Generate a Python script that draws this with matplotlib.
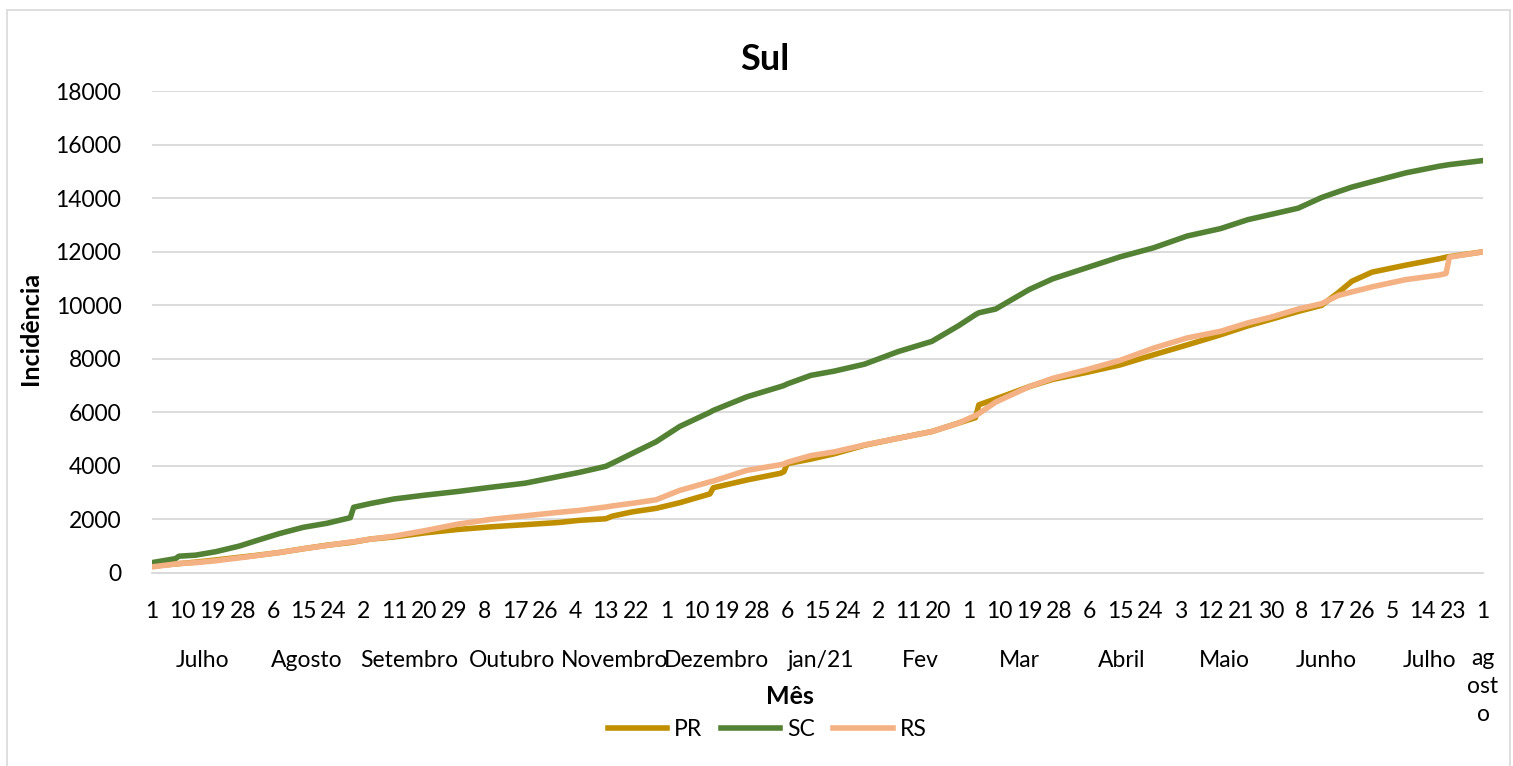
import numpy as np
import pandas as pd
import matplotlib
matplotlib.use("Agg")
import matplotlib.pyplot as plt
from matplotlib.patches import Rectangle

plt.rcParams['font.family'] = ['Lato', 'DejaVu Sans']

# dias desde 1 de julho de 2020
dias = [0, 7, 8, 13, 19, 26, 31, 38, 45, 52, 59, 60, 65, 72, 81, 91, 101, 111,
        121, 127, 135, 137, 143, 150, 157, 166, 167, 177, 187, 188, 189, 196, 203,
        212, 222, 232, 240, 245, 246, 251, 261, 268, 278, 288, 298, 308, 318,
        326, 333, 341, 348, 353, 357, 363, 373, 383, 385, 386, 396]

pr = [250, 330, 340, 400, 480, 580, 650, 760, 900, 1030, 1130, 1150, 1260,
      1340, 1490, 1620, 1720, 1800, 1880, 1960, 2020, 2120, 2280, 2410, 2620, 2950,
      3180, 3470, 3720, 3780, 4080, 4250, 4450, 4770, 5030, 5280, 5600, 5800,
      6280, 6500, 6960, 7230, 7490, 7770, 8150, 8520, 8900, 9230, 9480, 9770,
      10000, 10480, 10900, 11240, 11500, 11740, 11800, 11820, 12000]

sc = [380, 530, 620, 660, 790, 1000, 1200, 1470, 1700, 1850, 2060, 2450, 2590,
      2760, 2900, 3040, 3200, 3350, 3600, 3750, 3980, 4100, 4470, 4900, 5470, 6000,
      6070, 6580, 6960, 7000, 7060, 7380, 7540, 7800, 8270, 8650, 9240, 9650,
      9720, 9860, 10590, 10990, 11400, 11810, 12150, 12590, 12870, 13200, 13400,
      13630, 14030, 14250, 14420, 14620, 14950, 15200, 15240, 15260, 15410]

rs = [220, 330, 350, 380, 450, 560, 640, 760, 900, 1020, 1150, 1160, 1260,
      1370, 1570, 1820, 2000, 2130, 2260, 2330, 2460, 2500, 2600, 2730, 3080, 3400,
      3430, 3830, 4040, 4070, 4130, 4380, 4520, 4780, 5030, 5280, 5600, 5880,
      5950, 6380, 6960, 7270, 7590, 7940, 8400, 8780, 9030, 9340, 9560, 9860,
      10060, 10370, 10500, 10690, 10960, 11130, 11190, 11800, 12000]

meses = ["Julho", "Agosto", "Setembro", "Outubro", "Novembro", "Dezembro",
         "jan/21", "Fev", "Mar", "Abril", "Maio", "Junho", "Julho", "ag\nost\no"]

datas = pd.date_range("2020-07-01", "2021-08-01", freq="D")
n = len(datas) - 1

W, H = 1513, 766
fig = plt.figure(figsize=(W / 100, H / 100), dpi=100)
ax = fig.add_axes([152 / W, 1 - 572.8 / H, (1483 - 152) / W, (572.8 - 91.3) / H])

# moldura do gráfico
fig.patches.append(Rectangle((7 / W, -0.01), (1510 - 7) / W, 1 - 10 / H + 0.01,
                             transform=fig.transFigure, fill=False,
                             edgecolor="#D9D9D9", linewidth=1.2))

ax.plot(dias, pr, color="#BF8F00", lw=4.0, label="PR", solid_joinstyle="round")
ax.plot(dias, sc, color="#548235", lw=4.0, label="SC", solid_joinstyle="round")
ax.plot(dias, rs, color="#F4B183", lw=4.0, label="RS", solid_joinstyle="round")

ax.set_xlim(0, n)
ax.set_ylim(0, 18000)
ax.set_yticks(np.arange(0, 18001, 2000))
ax.yaxis.grid(True, color="#D9D9D9", linewidth=1.3)
ax.set_axisbelow(True)
for s in ["top", "right", "left"]:
    ax.spines[s].set_visible(False)
ax.spines["bottom"].set_color("#D9D9D9")
ax.spines["bottom"].set_linewidth(1.3)

pos = np.arange(0, n + 1, 9)
ax.set_xticks(pos)
ax.set_xticklabels([str(datas[p].day) for p in pos])
ax.tick_params(axis="both", length=0, labelsize=16.5, colors="#000000")
ax.tick_params(axis="x", pad=20)
ax.tick_params(axis="y", pad=22)

# rótulos de mês centrados no intervalo de cada mês
mes_id = datas.year * 12 + datas.month
ids = pd.unique(mes_id)
for nome, m in zip(meses, ids):
    idx = np.where(mes_id == m)[0]
    if "\n" in nome:
        ax.text((idx[0] + idx[-1]) / 2, -0.157, nome, transform=ax.get_xaxis_transform(),
                ha="center", va="top", fontsize=16.5, linespacing=1.4)
    else:
        ax.text((idx[0] + idx[-1]) / 2, -0.183, nome, transform=ax.get_xaxis_transform(),
                ha="center", va="center", fontsize=16.5)

fig.text(765 / W, 1 - 60 / H, "Sul", ha="center", va="center", fontsize=26,
         fontweight="bold")
fig.text(790 / W, 1 - 697 / H, "Mês", ha="center", va="center", fontsize=18,
         fontweight="bold")
fig.text(31 / W, 1 - 328 / H, "Incidência", ha="center", va="center",
         rotation=90, fontsize=18, fontweight="bold")

fig.legend(loc="center", bbox_to_anchor=(767 / W, 1 - 730 / H), ncol=3,
           frameon=False, fontsize=16.5, handlelength=2.6, columnspacing=0.8,
           handletextpad=0.3)

fig.savefig("out.png", dpi=100)
